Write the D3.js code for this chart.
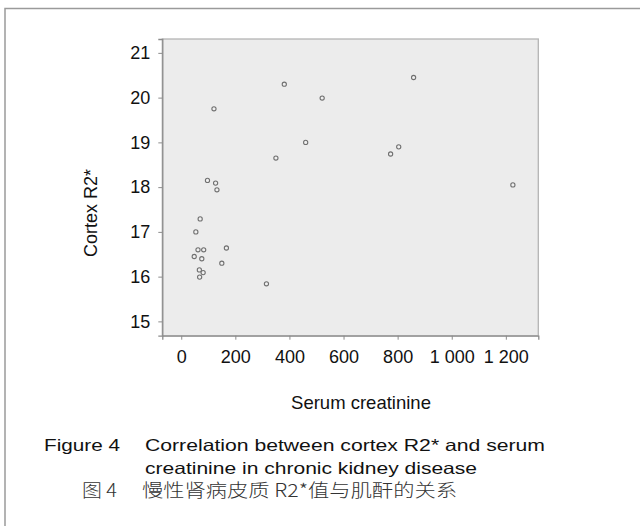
<!DOCTYPE html>
<html>
<head>
<meta charset="utf-8">
<script src="https://cdnjs.cloudflare.com/ajax/libs/d3/7.8.5/d3.min.js"></script>
<style>
  body { margin: 0; background: #fff; }
  text { font-family: Arial, "Liberation Sans", sans-serif; fill: #111; }
  .cjk { font-family: "Noto Sans CJK SC", sans-serif; font-weight: 300; fill: #333; }
</style>
</head>
<body>
<script>

// serum creatinine (x) vs cortex R2* (y)
var creatinine = [381, 521, 121, 460, 350, 97, 127, 132, 70, 54,
                  859, 804, 774, 1226, 62, 83, 48, 76, 167, 150,
                  67, 81, 68, 315];
var cortexR2 = [20.30, 19.99, 19.75, 19.00, 18.65, 18.15, 18.09, 17.94, 17.29, 17.00,
                20.45, 18.90, 18.74, 18.05, 16.60, 16.60, 16.45, 16.40, 16.64, 16.30,
                16.15, 16.09, 15.99, 15.84];
var xTicks = [0, 200, 400, 600, 800, 1000, 1200];
var yTicks = [15, 16, 17, 18, 19, 20, 21];

var width = 640, height = 526;
var plot = {left: 162.3, top: 39, right: 538.3, bottom: 335.7};

var points = creatinine.map(function(d, i) { return {x: d, y: cortexR2[i]}; });

var svg = d3.select("body").append("svg")
    .attr("width", width)
    .attr("height", height);

// outer figure frame (runs off the right and bottom of the picture)
svg.append("rect")
    .attr("x", 5).attr("y", 8.5)
    .attr("width", 700).attr("height", 600)
    .attr("fill", "none")
    .attr("stroke", "#9a9a9a")
    .attr("stroke-width", 1.5);

var x = d3.scaleLinear().domain([-70, 1320]).range([plot.left, plot.right]);
var y = d3.scaleLinear().domain([14.68, 21.31]).range([plot.bottom, plot.top]);

var spaced = d3.formatLocale({decimal: ".", thousands: " ", grouping: [3], currency: ["", ""]}).format(",d");

svg.append("rect")
    .attr("x", plot.left).attr("y", plot.top)
    .attr("width", plot.right - plot.left)
    .attr("height", plot.bottom - plot.top)
    .attr("fill", "#ececec")
    .attr("stroke", "#b4b4b4")
    .attr("stroke-width", 1.3);

var xAxis = svg.append("g")
    .attr("transform", "translate(0," + plot.bottom + ")")
    .call(d3.axisBottom(x).tickValues(xTicks).tickFormat(spaced).tickSize(4).tickPadding(11));

var yAxis = svg.append("g")
    .attr("transform", "translate(" + plot.left + ",0)")
    .call(d3.axisLeft(y).tickValues(yTicks).tickFormat(d3.format("d")).tickSize(4).tickPadding(8));

[xAxis, yAxis].forEach(function(ax) {
  ax.select(".domain").attr("stroke", "#8c8c8c").attr("stroke-width", 1.3);
  ax.selectAll(".tick line").attr("stroke", "#8c8c8c");
  ax.selectAll(".tick text")
      .style("font-family", "Arial, 'Liberation Sans', sans-serif")
      .style("font-size", "18px")
      .attr("fill", "#111");
});

svg.append("g").selectAll("circle")
    .data(points)
    .enter().append("circle")
    .attr("cx", function(d) { return x(d.x); })
    .attr("cy", function(d) { return y(d.y); })
    .attr("r", 2.1)
    .attr("fill", "#f0f0f0")
    .attr("stroke", "#707070")
    .attr("stroke-width", 1.1);

svg.append("text")
    .attr("transform", "translate(97,213) rotate(-90)")
    .attr("text-anchor", "middle")
    .style("font-size", "18px")
    .text("Cortex R2*");

svg.append("text")
    .attr("x", 361).attr("y", 409)
    .attr("text-anchor", "middle")
    .style("font-size", "18.5px")
    .text("Serum creatinine");

// caption, slightly wide-set like the printed one
var caption = [
  {t: "Figure 4", x: 44, y: 451, w: 76, cls: ""},
  {t: "Correlation between cortex R2* and serum", x: 145, y: 451, w: 400, cls: ""},
  {t: "creatinine in chronic kidney disease", x: 145, y: 474, w: 332, cls: ""},
  {t: "图 4", x: 82, y: 497, w: 35, cls: "cjk"},
  {t: "慢性肾病皮质 R2*值与肌酐的关系", x: 142, y: 497, w: 315, cls: "cjk"}
];

svg.selectAll(".cap")
    .data(caption)
    .enter().append("text")
    .attr("class", function(d) { return "cap " + d.cls; })
    .attr("x", function(d) { return d.x; })
    .attr("y", function(d) { return d.y; })
    .attr("textLength", function(d) { return d.w; })
    .attr("lengthAdjust", "spacingAndGlyphs")
    .style("font-size", function(d) { return d.cls ? "18.5px" : "16.5px"; })
    .text(function(d) { return d.t; });

</script>
</body>
</html>
